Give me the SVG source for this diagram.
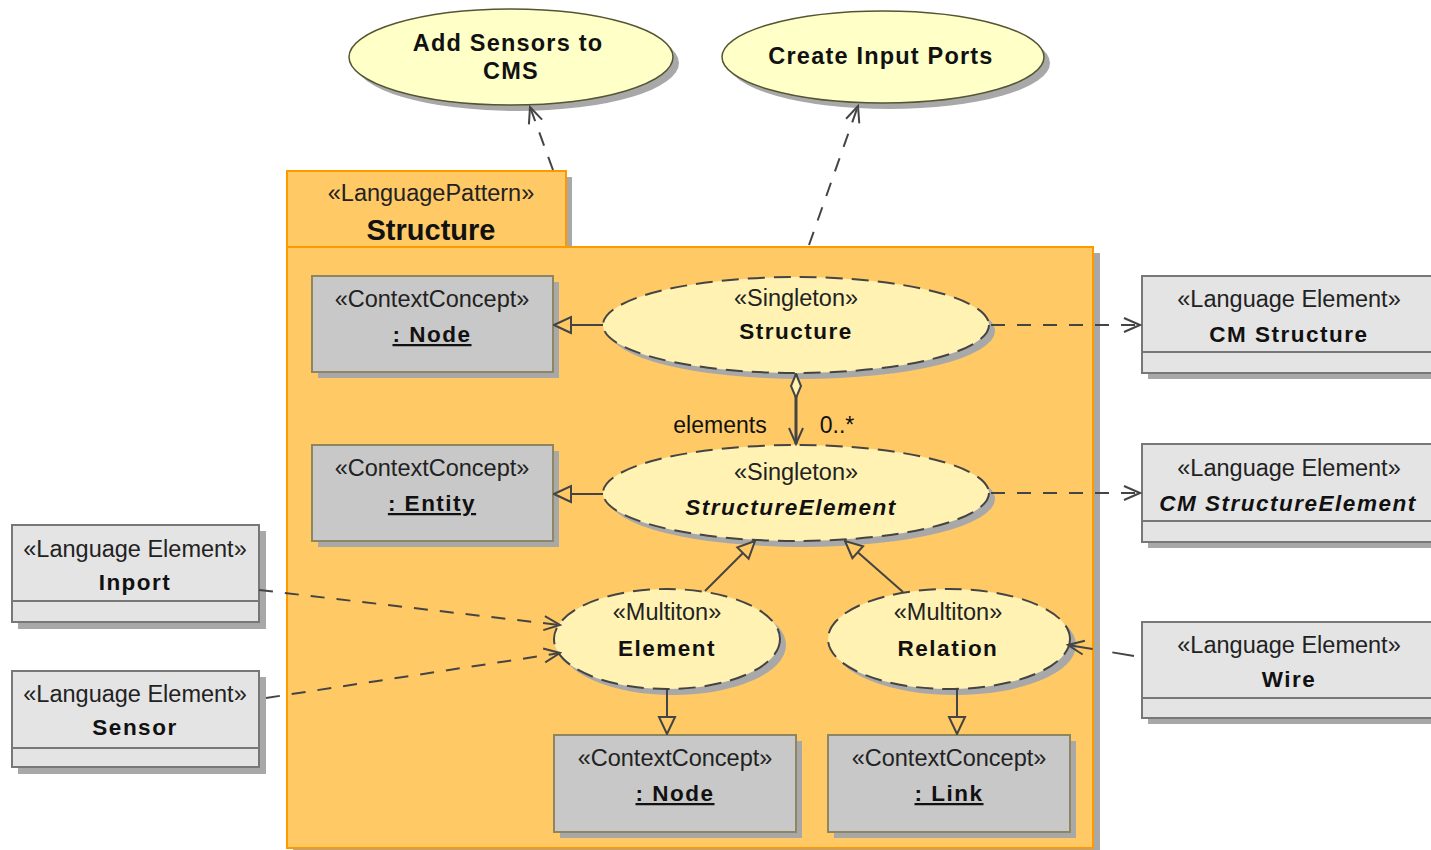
<svg xmlns="http://www.w3.org/2000/svg" width="1431" height="850" viewBox="0 0 1431 850">
<defs>
<marker id="open" viewBox="0 0 20 20" refX="18" refY="10" markerWidth="20" markerHeight="20" markerUnits="userSpaceOnUse" orient="auto">
<path d="M2,3 L18,10 L2,17" fill="none" stroke="#444" stroke-width="2"/>
</marker>
<marker id="tri" viewBox="0 0 20 20" refX="19" refY="10" markerWidth="20" markerHeight="20" markerUnits="userSpaceOnUse" orient="auto">
<path d="M2,2 L19,10 L2,18 Z" fill="#FFC966" stroke="#444" stroke-width="2"/>
</marker>
<marker id="dia" viewBox="0 0 28 14" refX="1" refY="7" markerWidth="28" markerHeight="14" markerUnits="userSpaceOnUse" orient="auto">
<path d="M1,7 L13,2 L25,7 L13,12 Z" fill="#FFF2B3" stroke="#444" stroke-width="2"/>
</marker>
</defs>
<style>
text{font-family:"Liberation Sans",Arial,sans-serif;fill:#111;text-anchor:middle}
.st{font-size:23.5px;fill:#222}
.nm{font-size:22.5px;font-weight:bold;letter-spacing:1.5px}
.ucn{font-size:23.5px;font-weight:bold;letter-spacing:1.2px}
.ul{text-decoration:underline}
.uc{fill:#FFFFC8;stroke:#555533;stroke-width:1.5}
.sh{fill:#A8A8A8}
.cc{fill:#C8C8C8;stroke:#8E8660;stroke-width:2}
.le{fill:#E4E4E4;stroke:#777;stroke-width:2}
.el{fill:#FFF2B3;stroke:#444;stroke-width:2;stroke-dasharray:17,9}
.dep{fill:none;stroke:#444;stroke-width:2;stroke-dasharray:14,12;marker-end:url(#open)}
.gen{fill:none;stroke:#444;stroke-width:2;marker-end:url(#tri)}
</style>
<rect width="1431" height="850" fill="#fff"/>

<g id="uc-add-sensors">
<ellipse class="sh" cx="517" cy="63" rx="162" ry="48"/>
<ellipse class="uc" cx="511" cy="57" rx="162" ry="48"/>
<text class="ucn" x="508" y="51">Add Sensors to</text>
<text class="ucn" x="511" y="79">CMS</text>
</g>
<g id="uc-create-input-ports">
<ellipse class="sh" cx="889" cy="63" rx="161" ry="46"/>
<ellipse class="uc" cx="883" cy="57" rx="161" ry="46"/>
<text class="ucn" x="881" y="64">Create Input Ports</text>
</g>

<g id="pkg-structure">
<rect class="sh" x="293" y="177" width="279" height="76"/>
<rect class="sh" x="293" y="253" width="807" height="601"/>
<rect x="287" y="171" width="279" height="76" fill="#FFC966" stroke="#FF9900" stroke-width="2"/>
<rect x="287" y="247" width="806" height="601" fill="#FFC966" stroke="#FF9900" stroke-width="2"/>
<text class="st" x="431" y="201">«LanguagePattern»</text>
<text x="431" y="240" style="font-size:29px;font-weight:bold">Structure</text>
</g>

<g id="cc-node1">
<rect class="sh" x="318" y="282" width="241" height="96"/>
<rect class="cc" x="312" y="276" width="241" height="96"/>
<text class="st" x="432" y="307">«ContextConcept»</text>
<text class="nm ul" x="432" y="342"> : Node</text>
</g>
<g id="cc-entity">
<rect class="sh" x="318" y="451" width="241" height="96"/>
<rect class="cc" x="312" y="445" width="241" height="96"/>
<text class="st" x="432" y="476">«ContextConcept»</text>
<text class="nm ul" x="432" y="511"> : Entity</text>
</g>
<g id="cc-node2">
<rect class="sh" x="560" y="741" width="242" height="97"/>
<rect class="cc" x="554" y="735" width="242" height="97"/>
<text class="st" x="675" y="766">«ContextConcept»</text>
<text class="nm ul" x="675" y="801"> : Node</text>
</g>
<g id="cc-link">
<rect class="sh" x="834" y="741" width="242" height="97"/>
<rect class="cc" x="828" y="735" width="242" height="97"/>
<text class="st" x="949" y="766">«ContextConcept»</text>
<text class="nm ul" x="949" y="801"> : Link</text>
</g>

<g id="singleton-structure">
<ellipse class="sh" cx="802" cy="331" rx="193" ry="48"/>
<ellipse class="el" cx="796" cy="325" rx="193" ry="48"/>
<text class="st" x="796" y="306">«Singleton»</text>
<text class="nm" x="796" y="339">Structure</text>
</g>
<g id="singleton-structureelement">
<ellipse class="sh" cx="802" cy="499" rx="193" ry="48"/>
<ellipse class="el" cx="796" cy="493" rx="193" ry="48"/>
<text class="st" x="796" y="480">«Singleton»</text>
<text class="nm" x="791" y="515" style="font-style:italic">StructureElement</text>
</g>
<g id="multiton-element">
<ellipse class="sh" cx="673" cy="645" rx="113" ry="50"/>
<ellipse class="el" cx="667" cy="639" rx="113" ry="50"/>
<text class="st" x="667" y="620">«Multiton»</text>
<text class="nm" x="667" y="656">Element</text>
</g>
<g id="multiton-relation">
<ellipse class="sh" cx="955" cy="645" rx="121" ry="50"/>
<ellipse class="el" cx="949" cy="639" rx="121" ry="50"/>
<text class="st" x="948" y="620">«Multiton»</text>
<text class="nm" x="948" y="656">Relation</text>
</g>

<g id="le-cmstructure">
<rect class="sh" x="1148" y="282" width="290" height="97"/>
<rect class="le" x="1142" y="276" width="295" height="97"/>
<line x1="1142" y1="352" x2="1431" y2="352" stroke="#777" stroke-width="2"/>
<text class="st" x="1289" y="307">«Language Element»</text>
<text class="nm" x="1289" y="342">CM Structure</text>
</g>
<g id="le-cmstructureelement">
<rect class="sh" x="1148" y="450" width="290" height="98"/>
<rect class="le" x="1142" y="444" width="295" height="98"/>
<line x1="1142" y1="521" x2="1431" y2="521" stroke="#777" stroke-width="2"/>
<text class="st" x="1289" y="476">«Language Element»</text>
<text class="nm" x="1288" y="511" style="font-style:italic">CM StructureElement</text>
</g>
<g id="le-wire">
<rect class="sh" x="1148" y="628" width="290" height="96"/>
<rect class="le" x="1142" y="622" width="295" height="96"/>
<line x1="1142" y1="698" x2="1431" y2="698" stroke="#777" stroke-width="2"/>
<text class="st" x="1289" y="653">«Language Element»</text>
<text class="nm" x="1289" y="687">Wire</text>
</g>
<g id="le-inport">
<rect class="sh" x="18" y="531" width="248" height="98"/>
<rect class="le" x="12" y="525" width="247" height="97"/>
<line x1="12" y1="601" x2="259" y2="601" stroke="#777" stroke-width="2"/>
<text class="st" x="135" y="557">«Language Element»</text>
<text class="nm" x="135" y="590">Inport</text>
</g>
<g id="le-sensor">
<rect class="sh" x="18" y="677" width="248" height="97"/>
<rect class="le" x="12" y="671" width="247" height="96"/>
<line x1="12" y1="748" x2="259" y2="748" stroke="#777" stroke-width="2"/>
<text class="st" x="135" y="702">«Language Element»</text>
<text class="nm" x="135" y="735">Sensor</text>
</g>

<g id="connectors">
<path class="dep" d="M553,170 L530,107"/>
<path class="dep" d="M809,245 L858,106"/>
<path class="gen" d="M603,325 L554,325"/>
<path class="gen" d="M603,494 L554,494"/>
<path d="M796,374 L796,444" fill="none" stroke="#444" stroke-width="3" marker-start="url(#dia)" marker-end="url(#open)"/>
<text x="720" y="433" style="font-size:23px">elements</text>
<text x="837" y="433" style="font-size:23px">0..*</text>
<path class="gen" d="M705,591 L755,541"/>
<path class="gen" d="M903,592 L845,541"/>
<path class="gen" d="M667,689 L667,734"/>
<path class="gen" d="M957,689 L957,734"/>
<path class="dep" d="M991,325 L1140,325"/>
<path class="dep" d="M991,493 L1140,493"/>
<path class="dep" d="M1134,656 L1068,645" style="stroke-dasharray:22,20"/>
<path class="dep" d="M259,590 L560,625"/>
<path class="dep" d="M266,698 L560,653"/>
</g>
</svg>
